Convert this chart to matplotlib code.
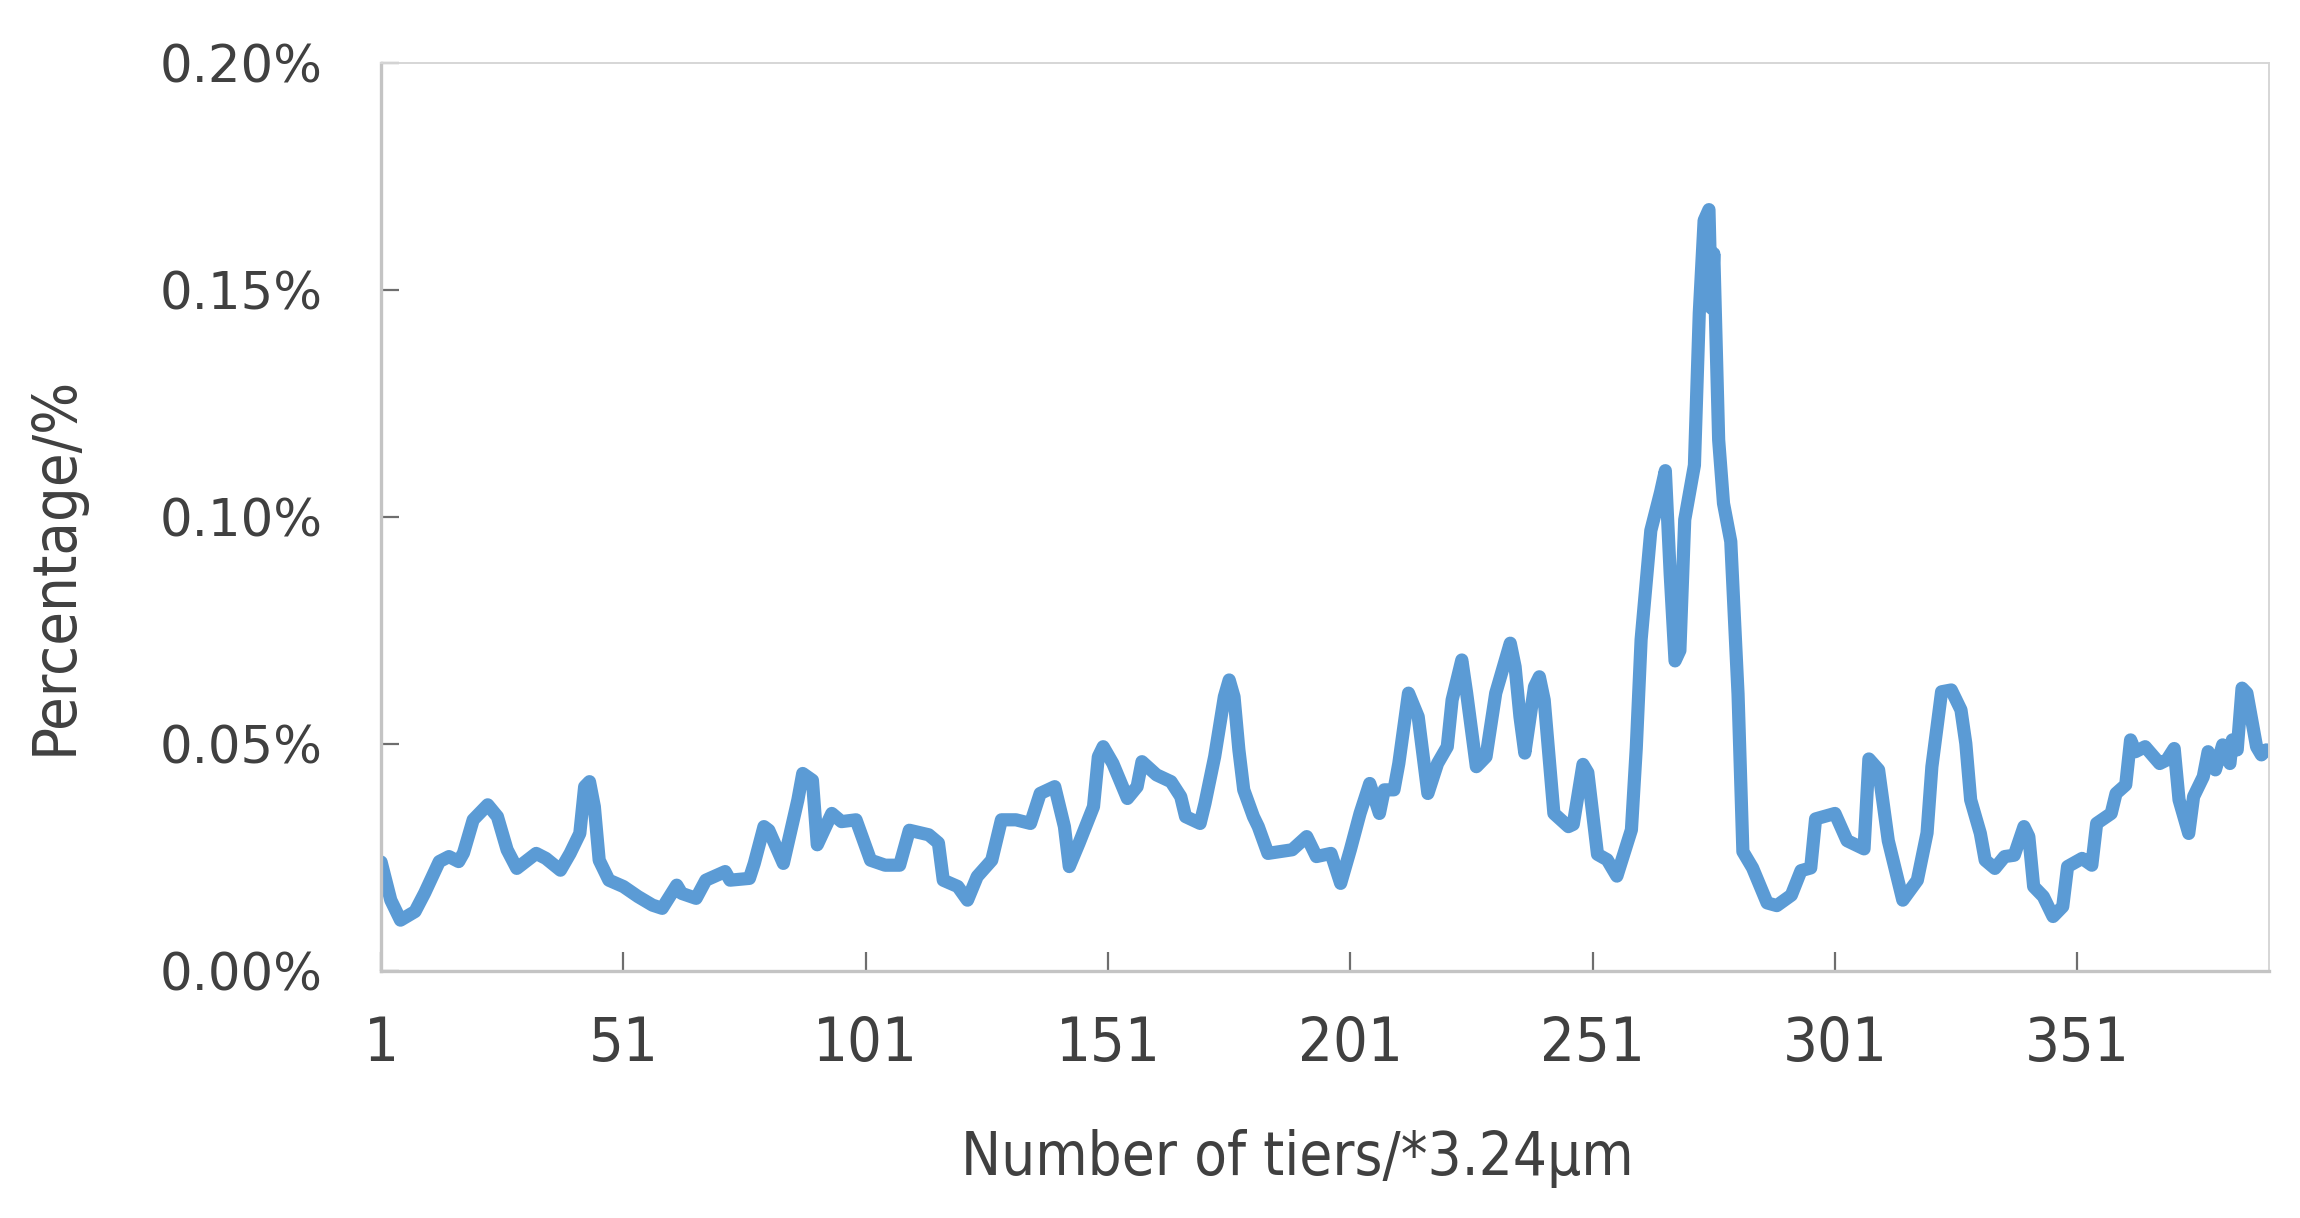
import numpy as np
import matplotlib
matplotlib.use("Agg")
from matplotlib import pyplot as plt, font_manager
from matplotlib.ticker import FuncFormatter

tiers = [1, 3, 5, 8, 10, 13, 15, 17, 18, 20, 23, 25, 27, 29, 33, 35, 38, 40, 42, 43,
         44, 45, 46, 48, 51, 54, 57, 59, 62, 63, 66, 68, 72, 73, 77, 78, 80, 81, 84, 87,
         88, 90, 91, 94, 96, 99, 102, 105, 108, 110, 114, 116, 117, 120, 122, 124, 127, 129, 132, 135,
         137, 140, 142, 143, 145, 148, 149, 150, 152, 155, 157, 158, 161, 164, 166, 167, 170, 171, 173, 175,
         176, 177, 178, 179, 181, 182, 184, 189, 192, 194, 197, 199, 201, 203, 205, 207, 208, 210, 211, 213,
         215, 217, 219, 221, 222, 224, 225, 227, 229, 231, 234, 235, 236, 237, 239, 240, 241, 243, 246, 247,
         249, 250, 252, 254, 256, 259, 260, 261, 263, 265, 266, 267, 268, 269, 270, 272, 273, 274, 275, 275.5,
         276, 277, 278, 279.5, 281, 282, 284, 287, 289, 292, 294, 296, 297, 301, 303.5, 307, 308, 310, 312, 315,
         318, 320, 321, 323, 325, 327, 328, 329, 331, 332, 334, 336, 338, 340, 341, 342, 344, 346, 348, 349,
         352, 354, 355, 358, 359, 361, 362, 363, 365, 368, 369.5, 371, 372, 374, 375, 377, 378, 379.5, 381, 382.5,
         383, 384, 385, 386, 387, 388, 389, 390]
pct = [0.024, 0.0156, 0.0112, 0.0131, 0.0172, 0.0241, 0.0252, 0.0241, 0.026, 0.0333, 0.0366, 0.034, 0.0267, 0.0226, 0.0259, 0.0248, 0.0222, 0.0259, 0.0303, 0.0406,
       0.0417, 0.0362, 0.0244, 0.020, 0.0186, 0.0164, 0.0145, 0.0138, 0.0189, 0.0171, 0.016, 0.020, 0.0219, 0.020, 0.0204, 0.0237, 0.0318, 0.031, 0.0237, 0.0377,
       0.0435, 0.042, 0.0278, 0.0347, 0.0329, 0.0333, 0.0244, 0.0233, 0.0233, 0.031, 0.030, 0.0282, 0.020, 0.0186, 0.0156, 0.0208, 0.0244, 0.0333, 0.0333, 0.0325,
       0.0391, 0.0406, 0.0318, 0.023, 0.0281, 0.0362, 0.0472, 0.0494, 0.0457, 0.038, 0.0406, 0.0461, 0.0432, 0.0417, 0.0384, 0.034, 0.0325, 0.0369, 0.0472, 0.0604,
       0.0641, 0.0604, 0.0487, 0.0399, 0.034, 0.0318, 0.0259, 0.0267, 0.0296, 0.0252, 0.0259, 0.0193, 0.0267, 0.0347, 0.0413, 0.0347, 0.0399, 0.0399, 0.0457, 0.0612,
       0.056, 0.0391, 0.0457, 0.0494, 0.0597, 0.0685, 0.0612, 0.045, 0.0472, 0.0612, 0.0722, 0.067, 0.056, 0.048, 0.0626, 0.0648, 0.0597, 0.0347, 0.0318, 0.0323,
       0.0455, 0.0437, 0.0257, 0.0245, 0.0209, 0.0311, 0.0491, 0.073, 0.097, 0.1054, 0.1102, 0.0874, 0.0683, 0.0706, 0.0994, 0.1114, 0.1449, 0.1653, 0.1677, 0.146,
       0.158, 0.117, 0.103, 0.0946, 0.061, 0.0263, 0.0227, 0.015, 0.0144, 0.0167, 0.0221, 0.0227, 0.0335, 0.0347, 0.0287, 0.0269, 0.0467, 0.0443, 0.0287, 0.0156,
       0.020, 0.0304, 0.045, 0.0615, 0.0619, 0.0575, 0.0501, 0.0377, 0.0303, 0.0244, 0.0226, 0.0252, 0.0255, 0.0318, 0.0296, 0.0186, 0.0164, 0.012, 0.0142, 0.023,
       0.0248, 0.0233, 0.0325, 0.0347, 0.0391, 0.041, 0.0509, 0.0483, 0.0494, 0.0457, 0.0465, 0.049, 0.0377, 0.0303, 0.0384, 0.0428, 0.0483, 0.0443, 0.0498, 0.0457,
       0.0509, 0.0487, 0.0623, 0.0612, 0.0553, 0.0494, 0.0476, 0.0487]

xticks = [1, 51, 101, 151, 201, 251, 301, 351]
yticks = [0.00, 0.05, 0.10, 0.15, 0.20]

# narrow face for the axis titles and x labels, if there is one
installed = {f.name for f in font_manager.fontManager.ttflist}
if 'Liberation Sans Narrow' in installed:
    narrow = dict(family='Liberation Sans Narrow')
else:
    narrow = dict(family='DejaVu Sans', stretch='condensed')

fig = plt.figure(figsize=(23, 12.18), dpi=100)
ax = fig.add_axes([0.1657, 0.2028, 0.8209, 0.7455])

ax.plot(tiers, pct, color='#5B9BD5', lw=9.5, solid_joinstyle='round', solid_capstyle='round')

ax.set_xlim(1, 390.6)
ax.set_ylim(0, 0.20)
ax.set_xticks(xticks)
ax.set_yticks(yticks)
ax.yaxis.set_major_formatter(FuncFormatter(lambda v, p: f"{v:.2f}%"))

ax.tick_params(direction='in', color='#6E6E6E', width=1.6)
ax.tick_params(axis='y', length=13, pad=42, labelsize=37, labelcolor='#404040')
ax.tick_params(axis='x', length=14, pad=32, labelsize=44, labelcolor='#404040')
for lab in ax.get_xticklabels():
    lab.set(**narrow)

for side in ['left', 'bottom']:
    ax.spines[side].set_color('#C4C4C4')
    ax.spines[side].set_linewidth(2.4)
for side in ['top', 'right']:
    ax.spines[side].set_color('#D6D6D6')
    ax.spines[side].set_linewidth(1.4)

ax.set_xlabel('Number of tiers/*3.24μm', fontsize=43, color='#404040', **narrow)
ax.xaxis.set_label_coords(0.485, -0.174)
ax.set_ylabel('Percentage/%', fontsize=44, color='#404040', **narrow)
ax.yaxis.set_label_coords(-0.157, 0.447)

fig.savefig('out.png', dpi=100)
